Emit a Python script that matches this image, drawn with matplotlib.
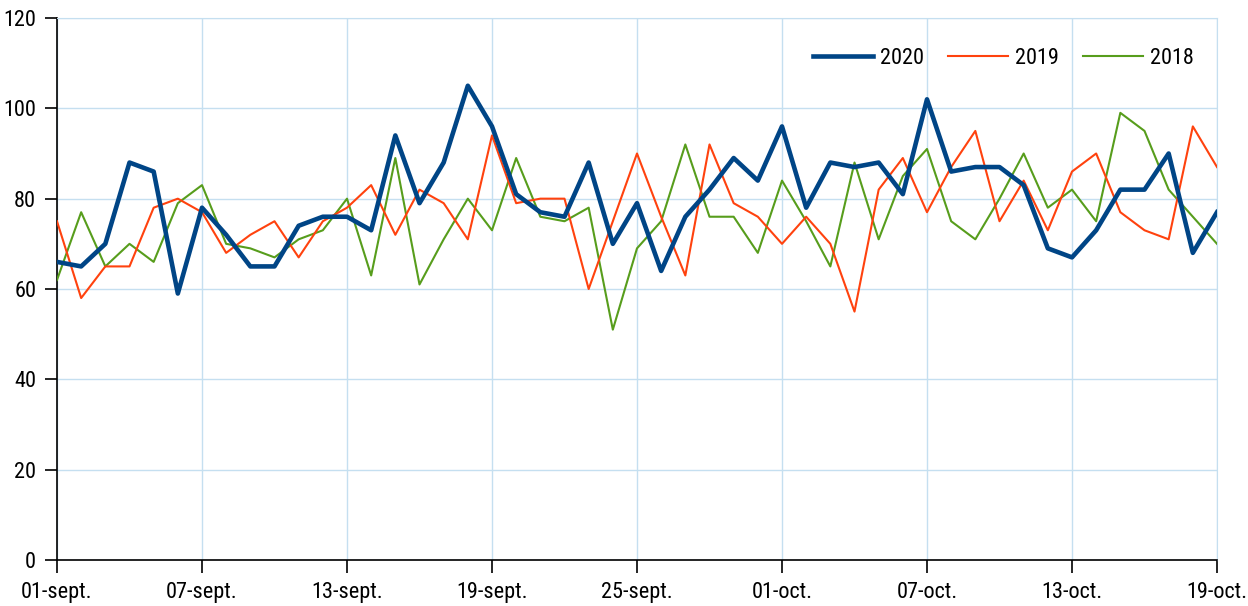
import matplotlib
matplotlib.use("Agg")
import matplotlib.pyplot as plt

plt.rcParams['font.family'] = ['Roboto Condensed', 'Liberation Sans', 'DejaVu Sans']

day_labels = ["01-sept.", "07-sept.", "13-sept.", "19-sept.", "25-sept.",
              "01-oct.", "07-oct.", "13-oct.", "19-oct."]
tick_step = 6

s2020 = [66, 65, 70, 88, 86, 59, 78, 72, 65, 65, 74, 76, 76, 73, 94, 79, 88, 105, 96, 81,
         77, 76, 88, 70, 79, 64, 76, 82, 89, 84, 96, 78, 88, 87, 88, 81, 102, 86, 87, 87,
         83, 69, 67, 73, 82, 82, 90, 68, 77]
s2019 = [75, 58, 65, 65, 78, 80, 77, 68, 72, 75, 67, 75, 78, 83, 72, 82, 79, 71, 94, 79,
         80, 80, 60, 75, 90, 76, 63, 92, 79, 76, 70, 76, 70, 55, 82, 89, 77, 87, 95, 75,
         84, 73, 86, 90, 77, 73, 71, 96, 87]
s2018 = [62, 77, 65, 70, 66, 79, 83, 70, 69, 67, 71, 73, 80, 63, 89, 61, 71, 80, 73, 89,
         76, 75, 78, 51, 69, 75, 92, 76, 76, 68, 84, 75, 65, 88, 71, 85, 91, 75, 71, 80,
         90, 78, 82, 75, 99, 95, 82, 76, 70]

x = list(range(len(s2020)))

W, H = 1248, 606
L, R, T, B = 57, 1217, 18, 560
fig = plt.figure(figsize=(W / 100, H / 100), dpi=100)
ax = fig.add_axes([L / W, 1 - B / H, (R - L) / W, (B - T) / H])

grid_c = "#c5dff0"
ax.plot(x, s2020, color="#004586", lw=3.3, label="2020", zorder=5)
ax.plot(x, s2019, color="#ff420e", lw=1.5, label="2019", zorder=4)
ax.plot(x, s2018, color="#579d1c", lw=1.5, label="2018", zorder=3)

ax.set_xlim(0, len(x) - 1)
ax.set_ylim(0, 120)
ax.set_yticks(range(0, 121, 20))
ax.set_xticks(range(0, len(x), tick_step))
ax.set_xticklabels(day_labels)
ax.grid(True, color=grid_c, lw=1)
ax.set_axisbelow(True)
for s in ["top", "right"]:
    ax.spines[s].set_color(grid_c)
for s in ["left", "bottom"]:
    ax.spines[s].set_color("black")
    ax.spines[s].set_linewidth(1.2)
ax.tick_params(axis="both", direction="out", length=9, width=1.2, labelsize=16, colors="black")
ax.tick_params(axis="x", pad=7)
ax.tick_params(axis="y", pad=6)

fs = 16 * 100 / 72
ax.legend(loc="center right",
          bbox_to_anchor=((1194 - L) / (R - L), 1 - (58 - T) / (B - T)),
          ncol=3, frameon=False, fontsize=16, borderpad=0, borderaxespad=0,
          handlelength=60 / fs, handletextpad=7 / fs, columnspacing=24 / fs)

fig.savefig("out.png", dpi=100)
